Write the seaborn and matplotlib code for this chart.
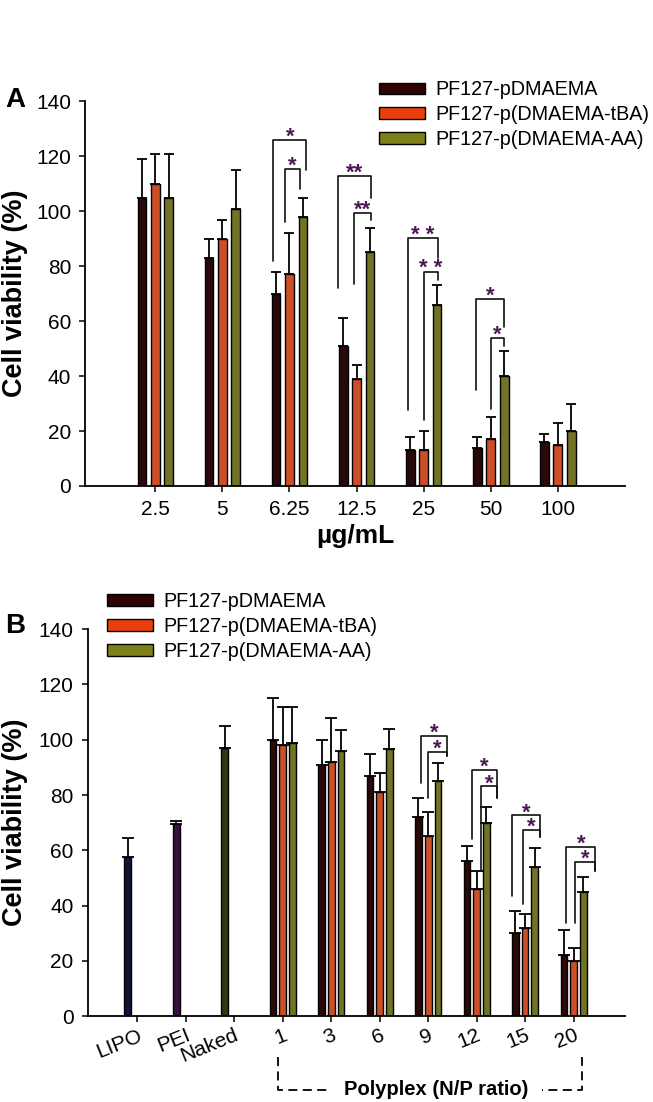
import numpy as np
import pandas as pd
import matplotlib
matplotlib.use('Agg')
import matplotlib.pyplot as plt
from matplotlib.patches import Patch
import seaborn as sns

sns.set_theme(style='ticks')
plt.rcParams['font.family'] = ['Liberation Sans', 'DejaVu Sans']
plt.rcParams.update({'text.color': 'black', 'axes.labelcolor': 'black',
                     'xtick.color': 'black', 'ytick.color': 'black',
                     'axes.edgecolor': 'black'})

# ---- data -------------------------------------------------------------
series = ['PF127-pDMAEMA', 'PF127-p(DMAEMA-tBA)', 'PF127-p(DMAEMA-AA)']

# panel A: viability vs concentration
conc = ['2.5', '5', '6.25', '12.5', '25', '50', '100']
a_pd = [105, 83, 70, 51, 13, 14, 16]
a_pd_err = [14, 7, 8, 10, 5, 4, 3]
a_tba = [110, 90, 77, 39, 13, 17, 15]
a_tba_err = [11, 7, 15, 5, 7, 8, 8]
a_aa = [105, 101, 98, 85, 66, 40, 20]
a_aa_err = [16, 14, 7, 9, 7, 9, 10]

# panel B: controls + polyplexes at N/P ratios
controls = ['LIPO', 'PEI', 'Naked']
ctrl_val = [57.5, 69.5, 97]
ctrl_err = [7, 1.2, 8]
np_ratio = ['1', '3', '6', '9', '12', '15', '20']
b_pd = [100, 91, 87, 72, 56, 30, 22]
b_pd_err = [15, 9, 8, 7, 5.5, 8, 9]
b_tba = [98, 92, 81, 65, 46, 32, 20]
b_tba_err = [14, 16, 7, 9, 6.5, 5, 4.5]
b_aa = [99, 96, 96.5, 85, 70, 54, 45]
b_aa_err = [13, 7.5, 7.5, 6.5, 5.8, 7, 5.3]

# significance brackets: (category, left off, right off, top, left foot, right foot, label)
a_brackets = [
    ('6.25', -0.24, 0.25, 126, 82, 115, '*'),
    ('6.25', -0.07, 0.15, 115.4, 96, 108, '*'),
    ('12.5', -0.28, 0.21, 113, 72, 105, '**'),
    ('12.5', -0.04, 0.21, 99.4, 73.6, 97, '**'),
    ('25', -0.24, 0.21, 90.3, 27.5, 83, '* *'),
    ('25', 0.0, 0.21, 78, 24, 75, '* *'),
    ('50', -0.22, 0.20, 68, 35, 58, '*'),
    ('50', 0.0, 0.20, 53.8, 28, 51, '*'),
]
b_brackets = [
    ('9', -0.14, 0.39, 101.3, 84.3, 94, '*'),
    ('9', 0.0, 0.39, 95.5, 79, 94, '*'),
    ('12', -0.10, 0.43, 88.9, 64, 79, '*'),
    ('12', 0.08, 0.43, 83.1, 52.4, 79, '*'),
    ('15', -0.27, 0.31, 72.6, 43.5, 64.8, '*'),
    ('15', -0.04, 0.31, 67.5, 40.4, 64.8, '*'),
    ('20', -0.15, 0.45, 61.2, 33.5, 52.5, '*'),
    ('20', 0.04, 0.45, 55.8, 33.7, 52.5, '*'),
]

colors = ['#2e0303', '#e8400c', '#80801a']
ctrl_colors = ['#10123a', '#361040', '#35350f']
star_color = '#4e1a55'

# ---- long tables ------------------------------------------------------
def long_table(cats, vals, errs):
    rows = []
    for s, v, e in zip(series, vals, errs):
        for c, vv, ee in zip(cats, v, e):
            rows.append({'group': c, 'series': s, 'value': vv, 'err': ee})
    return pd.DataFrame(rows)

df_a = long_table(conc, [a_pd, a_tba, a_aa], [a_pd_err, a_tba_err, a_aa_err])
df_b = long_table(np_ratio, [b_pd, b_tba, b_aa], [b_pd_err, b_tba_err, b_aa_err])
df_ctrl = pd.DataFrame({'group': controls, 'series': series[0],
                        'value': ctrl_val, 'err': ctrl_err})
df_b = pd.concat([df_ctrl, df_b], ignore_index=True)
b_order = controls + np_ratio


def draw_panel(ax, df, order, gap, capsize):
    sns.barplot(data=df, x='group', y='value', hue='series', order=order,
                hue_order=series, palette=dict(zip(series, colors)),
                width=0.6, gap=gap, edgecolor='black', linewidth=1.0,
                errorbar=None, legend=False, ax=ax)
    lookup = df.set_index(['series', 'group'])['err']
    for s, cont in zip(series, ax.containers):
        for p in cont:
            xc = p.get_x() + p.get_width() / 2
            g = order[int(round(xc))]
            if (s, g) not in lookup.index:
                continue
            ax.errorbar(xc, p.get_height(), yerr=[[0], [lookup[(s, g)]]],
                        fmt='none', ecolor='black', elinewidth=1.3,
                        capsize=capsize, capthick=1.3, zorder=1)


def draw_brackets(ax, order, brackets):
    for g, xl, xr, top, yl, yr, lab in brackets:
        c = order.index(g)
        ax.plot([c + xl, c + xl, c + xr, c + xr], [yl, top, top, yr],
                color='#111111', lw=1.2, clip_on=False, zorder=3)
        ax.annotate(lab, (c + (xl + xr) / 2, top), xytext=(0, -2),
                    textcoords='offset points', ha='center', va='baseline',
                    fontsize=16, color=star_color, fontweight='bold')


def style_axes(ax):
    sns.despine(ax=ax)
    for sp in ax.spines.values():
        sp.set_linewidth(1.3)
    ax.set_ylim(0, 140)
    ax.set_yticks(range(0, 141, 20))
    ax.tick_params(axis='both', length=4, width=1.1, labelsize=15)
    ax.tick_params(axis='y', pad=6)
    ax.set_ylabel('Cell viability (%)', fontsize=19.5, fontweight='bold')


fig = plt.figure(figsize=(6.53, 11.02), dpi=100)
handles = [Patch(facecolor=c, edgecolor='black', linewidth=1.0) for c in colors]
leg_kw = dict(loc='upper left', bbox_transform=fig.transFigure, frameon=False,
              fontsize=14.2, handlelength=2.35, handleheight=0.55,
              handletextpad=0.5, labelspacing=0.3, borderpad=0,
              borderaxespad=0)

# ---- panel A ----------------------------------------------------------
ax1 = fig.add_axes([0.130, 0.559, 0.827, 0.349])
draw_panel(ax1, df_a, conc, gap=0.35, capsize=3.8)
draw_brackets(ax1, conc, a_brackets)
style_axes(ax1)
ax1.set_xlim(-1.05, 7.0)
ax1.tick_params(axis='x', pad=6)
ax1.set_xlabel('µg/mL', fontsize=19, fontweight='bold', labelpad=4)
ax1.yaxis.set_label_coords(-0.106, 0.5)
ax1.legend(handles, series, bbox_to_anchor=(0.580, 0.927), **leg_kw)
fig.text(0.008, 0.909, 'A', fontsize=20, fontweight='bold', va='center')

# ---- panel B ----------------------------------------------------------
ax2 = fig.add_axes([0.134, 0.078, 0.823, 0.351])
draw_panel(ax2, df_b, b_order, gap=0.31, capsize=4.0)
for p in ax2.containers[0]:
    idx = int(round(p.get_x() + p.get_width() / 2))
    if idx < len(controls):
        p.set_facecolor(ctrl_colors[idx])
draw_brackets(ax2, b_order, b_brackets)
style_axes(ax2)
ax2.set_xlim(-1.03, 10.06)
ax2.set_xlabel('')
ax2.tick_params(axis='x', pad=3)
for lab in ax2.get_xticklabels():
    lab.set_rotation(22)
    lab.set_ha('right')
    lab.set_rotation_mode('anchor')
ax2.yaxis.set_label_coords(-0.110, 0.5)
ax2.legend(handles, series, bbox_to_anchor=(0.164, 0.463), **leg_kw)
fig.text(0.008, 0.432, 'B', fontsize=20, fontweight='bold', va='center')

# dashed bracket marking polyplex groups
tr = ax2.get_xaxis_transform()
x0, x1 = b_order.index('1') - 0.1, b_order.index('20') + 0.17
ax2.plot([x0, x0, x1, x1], [-0.106, -0.191, -0.191, -0.106], transform=tr,
         color='black', lw=1.3, ls=(0, (5, 3)), clip_on=False)
ax2.text(6.16, -0.191, 'Polyplex (N/P ratio)', transform=tr,
         ha='center', va='center', fontsize=14.5, fontweight='bold',
         bbox=dict(facecolor='white', edgecolor='none', pad=10))

fig.savefig('out.png', dpi=100)
